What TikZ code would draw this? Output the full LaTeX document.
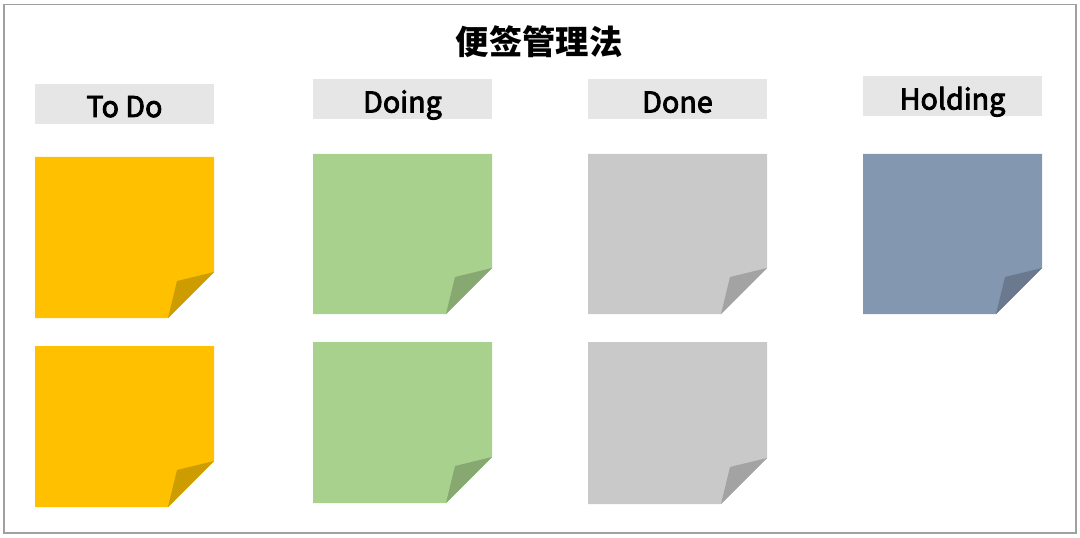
\documentclass[tikz,border=0pt]{standalone}
\usepackage{fontspec}
\setmainfont{Noto Sans CJK SC}
\newfontfamily\hdrfont[FakeBold=3]{Noto Sans CJK SC}
\definecolor{hdr}{HTML}{E6E6E6}
\definecolor{ylw}{HTML}{FFC000}
\definecolor{ylwd}{HTML}{CC9C00}
\definecolor{grn}{HTML}{A9D18E}
\definecolor{grnd}{HTML}{87A871}
\definecolor{gry}{HTML}{C9C9C9}
\definecolor{gryd}{HTML}{A3A3A3}
\definecolor{blu}{HTML}{8497B0}
\definecolor{blud}{HTML}{6A798D}
\definecolor{frm}{HTML}{A0A0A0}
\tikzset{
  header/.style={fill=hdr, draw=none, minimum width=134.25pt, minimum height=30pt, inner sep=0pt,
    text height=22pt, text depth=2.5pt, font=\hdrfont\fontsize{21.5}{24}\selectfont, text=black},
  titletext/.style={font=\fontsize{25}{30}\selectfont\bfseries, text=black, inner sep=0pt}
}
% #1 x0, #2 y0, #3 x1, #4 y1, #5 body colour, #6 fold colour
\newcommand\stickynote[6]{%
  \fill[#5] (#1,#2) -- (#3,#2) -- (#3,#4-46) -- (#3-46,#4) -- (#1,#4) -- cycle;
  \fill[#6] (#3,#4-46) -- (#3-37,#4-37) -- (#3-46,#4) -- cycle;
}
\begin{document}
\begin{tikzpicture}[x=0.75pt,y=-0.75pt]
\useasboundingbox (0,0) rectangle (1080,538);
\draw[frm, line width=1pt] (4,4.5) rectangle (1076,533);
\node[titletext] (title) at (539,42) {便签管理法};
\node[header] (todo) at (124.5,104) {To Do};
\node[header] (doing) at (402.5,99.5) {Doing};
\node[header] (done) at (677.5,99.5) {Done};
\node[header] (holding) at (952.5,96.5) {Holding};
\stickynote{35}{157}{214}{318}{ylw}{ylwd}
\stickynote{35}{346}{214}{507}{ylw}{ylwd}
\stickynote{313}{154}{492}{314}{grn}{grnd}
\stickynote{313}{342}{492}{503}{grn}{grnd}
\stickynote{588}{154}{767}{314}{gry}{gryd}
\stickynote{588}{342}{767}{504}{gry}{gryd}
\stickynote{863}{154}{1042}{314}{blu}{blud}
\end{tikzpicture}
\end{document}
